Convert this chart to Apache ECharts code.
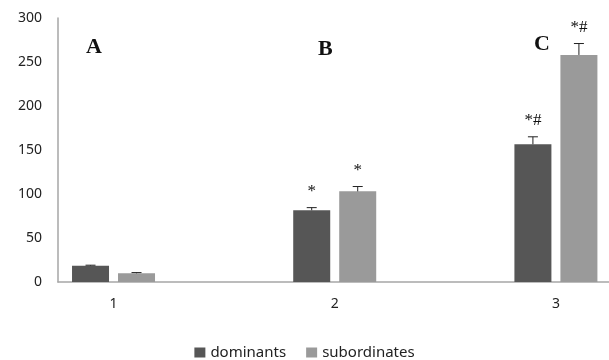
<!DOCTYPE html>
<html><head><meta charset="utf-8">
<script src="https://cdn.jsdelivr.net/npm/echarts@6/dist/echarts.min.js"></script>
<style>html,body{margin:0;padding:0;background:#fff}#c{width:609px;height:360px}</style>
</head><body><div id="c"></div>
<script>
var categories = [1, 2, 3];
var dominants = [18.5, 81.5, 156.5];
var dominantsErr = [0.6, 3, 8.5];
var subordinates = [9.9, 103, 258];
var subordinatesErr = [0.8, 5.5, 13];
var dominantsMarks = ['', '*', '*#'];
var subordinatesMarks = ['', '*', '*#'];
var yTicks = [0, 50, 100, 150, 200, 250, 300];
var panelLetters = ['A', 'B', 'C'];

var BAR_W = 37, GAP = 9;
var OFF = (BAR_W + GAP) / 2;

function pairs(vals){ return categories.map(function(c,i){ return [c, vals[i]]; }); }
function errData(vals, errs, marks){ return categories.map(function(c,i){ return [c, vals[i], errs[i], marks[i]]; }); }

function errRender(offset){
  return function(params, api){
    var x = api.value(0), v = api.value(1), e = api.value(2);
    var mark = api.value(3);
    var top = api.coord([x, v + e]);
    var bot = api.coord([x, v]);
    var cx = top[0] + offset;
    var children = [
      {type:'line', shape:{x1:cx, y1:bot[1], x2:cx, y2:top[1]}, style:{stroke:'#222', lineWidth:1}},
      {type:'line', shape:{x1:cx-5, y1:top[1], x2:cx+5, y2:top[1]}, style:{stroke:'#222', lineWidth:1}}
    ];
    if (mark) {
      children.push({type:'text', style:{text:mark, x:cx, y:top[1]-16, align:'center', verticalAlign:'middle',
        font:'17px "Liberation Serif"', fill:'#111'}});
    }
    return {type:'group', children:children};
  };
}

var chart = echarts.init(document.getElementById('c'), null, {renderer:'canvas'});
chart.setOption({
  animation:false,
  grid:{left:58, right:0, top:18, bottom:78, containLabel:false},
  legend:{
    data:['dominants','subordinates'], top:340, left:'center',
    itemWidth:11, itemHeight:10, itemGap:20, icon:'rect',
    textStyle:{fontFamily:'Noto Sans', fontSize:15, color:'#222'}
  },
  xAxis:{
    type:'value', min:0.749, max:3.24,
    splitLine:{show:false}, axisTick:{show:false},
    axisLine:{show:true, lineStyle:{color:'#a6a6a6', width:1.5}},
    axisLabel:{customValues:categories, margin:15, fontFamily:'Noto Sans', fontSize:14, color:'#222',
      hideOverlap:false}
  },
  yAxis:{
    type:'value', min:0, max:300, interval:50,
    splitLine:{show:false}, axisTick:{show:false},
    axisLine:{show:true, lineStyle:{color:'#a6a6a6', width:1.5}},
    axisLabel:{margin:16, fontFamily:'Noto Sans', fontSize:14, color:'#222',
      formatter:function(v){ return yTicks.indexOf(v) >= 0 ? String(v) : ''; }}
  },
  graphic:[
    {type:'text', left:86, top:36, style:{text:panelLetters[0], font:'bold 22px "Liberation Serif"', fill:'#111'}},
    {type:'text', left:318, top:38, style:{text:panelLetters[1], font:'bold 22px "Liberation Serif"', fill:'#111'}},
    {type:'text', left:534, top:33, style:{text:panelLetters[2], font:'bold 22px "Liberation Serif"', fill:'#111'}}
  ],
  series:[
    {name:'dominants', type:'bar', data:pairs(dominants), barWidth:BAR_W, barGap:(GAP/BAR_W*100)+'%',
      itemStyle:{color:'#565656'}},
    {name:'subordinates', type:'bar', data:pairs(subordinates), barWidth:BAR_W, barGap:(GAP/BAR_W*100)+'%',
      itemStyle:{color:'#9a9a9a'}},
    {type:'custom', renderItem:errRender(-OFF), data:errData(dominants, dominantsErr, dominantsMarks),
      encode:{x:0, y:1}, z:5, silent:true},
    {type:'custom', renderItem:errRender(OFF), data:errData(subordinates, subordinatesErr, subordinatesMarks),
      encode:{x:0, y:1}, z:5, silent:true}
  ]
});
</script></body></html>
